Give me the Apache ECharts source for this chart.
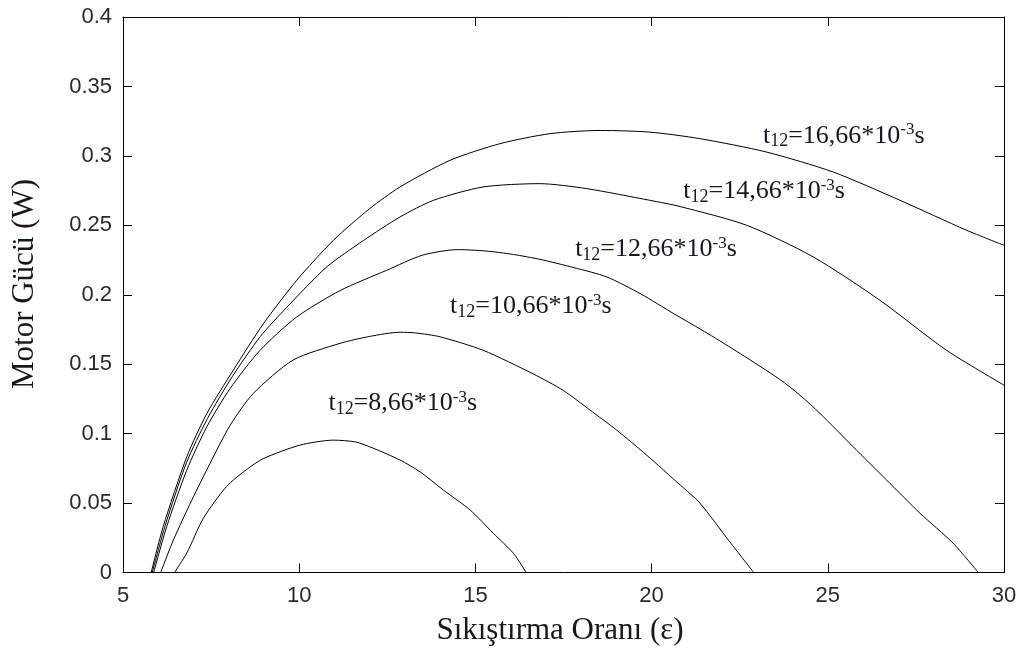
<!DOCTYPE html>
<html>
<head>
<meta charset="utf-8">
<script src="https://cdn.jsdelivr.net/npm/echarts@6/dist/echarts.min.js"></script>
<style>
html,body{margin:0;padding:0;background:#fff;}
#chart{width:1022px;height:655px;}
</style>
</head>
<body>
<div id="chart"></div>
<script>
// Data: [compression ratio, power (W)]
var s866 = [[6.46,0],[6.81,0.014],[7.28,0.039],[7.94,0.062],[8.5,0.074],[8.98,0.082],[10.02,0.0917],[10.97,0.0953],[11.6,0.094],[12.1,0.0895],[12.86,0.081],[13.43,0.0725],[14.09,0.0594],[14.85,0.045],[15.51,0.0282],[16.08,0.0138],[16.44,0]];
var s1066 = [[6.07,0],[6.43,0.0234],[6.95,0.052],[7.47,0.0786],[8.04,0.106],[8.7,0.129],[9.83,0.153],[11.16,0.165],[12.0,0.170],[12.86,0.173],[13.3,0.1725],[14.0,0.1697],[15.22,0.160],[16.64,0.143],[17.5,0.131],[18.25,0.117],[19.01,0.1025],[19.86,0.0845],[20.81,0.063],[21.37,0.050],[22.22,0.022],[22.9,0]];
var s1266 = [[5.87,0],[6.24,0.033],[6.81,0.0737],[7.38,0.105],[8.04,0.1325],[8.89,0.160],[9.93,0.184],[11.16,0.203],[12.48,0.2176],[13.5,0.2285],[14.5,0.2325],[15.3,0.2315],[16.08,0.229],[16.83,0.2255],[17.8,0.2195],[18.73,0.2128],[19.7,0.2005],[20.62,0.1865],[21.6,0.172],[22.51,0.1577],[23.64,0.139],[24.21,0.1277],[24.78,0.1145],[25.72,0.0905],[26.67,0.0665],[27.62,0.0426],[28.56,0.021],[29.27,0]];
var s1466 = [[5.83,0],[6.2,0.034],[6.8,0.079],[7.4,0.111],[8.1,0.141],[8.9,0.170],[9.65,0.191],[10.78,0.220],[11.82,0.239],[12.86,0.256],[13.81,0.268],[15.22,0.2776],[16.83,0.280],[18.16,0.2764],[19.95,0.268],[20.81,0.2635],[22.7,0.250],[24.59,0.2272],[26.48,0.196],[28.37,0.160],[30,0.1349]];
var s1666 = [[5.80,0],[6.14,0.033],[6.81,0.0833],[7.38,0.1145],[8.13,0.1457],[8.98,0.179],[9.93,0.2104],[10.97,0.2392],[12.0,0.262],[12.86,0.2776],[14.28,0.2968],[15.7,0.3088],[17.12,0.316],[18.54,0.3183],[19.95,0.3171],[21.37,0.3124],[23.27,0.3027],[25.16,0.2883],[27.05,0.268],[28.94,0.2464],[30,0.2356]];

var seriesData = [s866, s1066, s1266, s1466, s1666];
var seriesValues = ['8,66', '10,66', '12,66', '14,66', '16,66'];
// label anchor (left edge, vertical centre) in data coordinates
var labelAnchors = [[10.83,0.1217],[14.28,0.1917],[17.83,0.2327],[20.9,0.2745],[23.16,0.3144]];

var xTicks = {min:5, max:30, interval:5};
var yTicks = {min:0, max:0.4, interval:0.05};
var xTitle = 'Sıkıştırma Oranı (ε)';
var yTitle = 'Motor Gücü (W)';

var chart = echarts.init(document.getElementById('chart'), null, {renderer:'canvas'});

var tickFont = {fontFamily:'Liberation Sans, Arial, sans-serif', fontSize:22, color:'#2a2a2a'};
var axisLineStyle = {color:'#000', width:1};

function mkX(pos, showLabel){
  return {type:'value', position:pos, min:xTicks.min, max:xTicks.max, interval:xTicks.interval,
    axisLine:{show:true, onZero:false, lineStyle:axisLineStyle},
    axisTick:{show:true, inside:true, length:9, lineStyle:axisLineStyle},
    axisLabel:Object.assign({show:showLabel, margin:12}, tickFont),
    splitLine:{show:false}};
}
function mkY(pos, showLabel){
  return {type:'value', position:pos, min:yTicks.min, max:yTicks.max, interval:yTicks.interval,
    axisLine:{show:true, onZero:false, lineStyle:axisLineStyle},
    axisTick:{show:true, inside:true, length:9, lineStyle:axisLineStyle},
    axisLabel:Object.assign({show:showLabel, margin:11}, tickFont),
    splitLine:{show:false}};
}

var serif = 'Liberation Serif, Times New Roman, serif';
var labelColor = '#161628';
var rich = {
  t:{fontFamily:serif, fontSize:26, lineHeight:29, color:labelColor},
  sub:{fontFamily:serif, fontSize:18, lineHeight:18, verticalAlign:'bottom', color:labelColor},
  sup:{fontFamily:serif, fontSize:17, lineHeight:17, verticalAlign:'top', color:labelColor}
};

var series = seriesData.map(function(d, i){
  return {
    type:'line', data:d, xAxisIndex:0, yAxisIndex:0,
    showSymbol:false, symbol:'none', smooth:0.25,
    lineStyle:{color:'#000', width:1}, silent:true,
    markPoint:{
      symbol:'circle', symbolSize:0, silent:true,
      data:[{coord:labelAnchors[i], value:0}],
      label:{show:true, position:'right', distance:0,
        formatter:'{t|t}{sub|12}{t|=' + seriesValues[i] + '*10}{sup|-3}{t|s}', rich:rich}
    }
  };
});

chart.setOption({
  animation:false,
  backgroundColor:'#fff',
  grid:{left:123, right:18, top:17, bottom:82.5, containLabel:false},
  xAxis:[mkX('bottom', true), mkX('top', false)],
  yAxis:[mkY('left', true), mkY('right', false)],
  series:series,
  graphic:[
    {type:'text', x:560, y:631, style:{text:xTitle, fontFamily:serif, fontSize:31, fill:'#1e1616', textAlign:'center', textVerticalAlign:'middle'}},
    {type:'text', x:24.5, y:284, rotation:Math.PI/2, style:{text:yTitle, fontFamily:serif, fontSize:31, fill:'#1e1616', textAlign:'center', textVerticalAlign:'middle'}}
  ]
});
</script>
</body>
</html>
